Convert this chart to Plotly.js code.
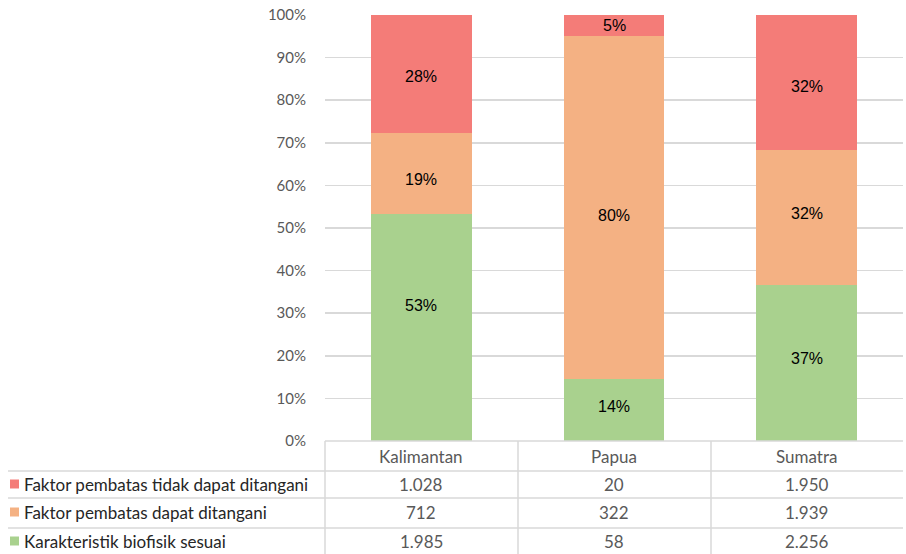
<!DOCTYPE html>
<html>
<head>
<meta charset="utf-8">
<script src="https://cdn.plot.ly/plotly-3.0.1.min.js"></script>
<style>
  html, body { margin: 0; padding: 0; background: #fff; }
  #chart { width: 906px; height: 554px; }
</style>
</head>
<body>
<div id="chart"></div>
<script>
// Regions shown as columns
const regions = ['Kalimantan', 'Papua', 'Sumatra'];

// Counts per series (same order as regions)
const seriesNames = [
  'Faktor pembatas tidak dapat ditangani',
  'Faktor pembatas dapat ditangani',
  'Karakteristik biofisik sesuai'
];
const tidakDapatDitangani = [1028, 20, 1950];
const dapatDitangani = [712, 322, 1939];
const biofisikSesuai = [1985, 58, 2256];

const yTicks = [0, 10, 20, 30, 40, 50, 60, 70, 80, 90, 100];

// vertical nudge of each percentage label, px downward from segment centre
const labelNudge = [
  [3, 0, 4],     // tidak dapat ditangani
  [6, 8, -4],    // dapat ditangani
  [-22, -4, -4]  // biofisik sesuai
];

const colors = ['#f47c78', '#f4b183', '#a9d18e'];
const seriesValues = [tidakDapatDitangani, dapatDitangani, biofisikSesuai];

// share of each series within a region, in percent
const totals = regions.map((_, i) => seriesValues.reduce((s, arr) => s + arr[i], 0));
const pct = seriesValues.map(arr => arr.map((v, i) => v * 100 / totals[i]));

// round half to even
function roundEven(x) {
  const f = Math.floor(x), d = x - f;
  if (Math.abs(d - 0.5) < 1e-9) return (f % 2 === 0) ? f : f + 1;
  return Math.round(x);
}
// thousands separator "."
function fmt(n) {
  return String(n).replace(/\B(?=(\d{3})+(?!\d))/g, '.');
}

// plot area in pixels
const L = 325, R = 903, T = 15, B = 441, W = 906, H = 554;
const px = x => (x - L) / (R - L);
const py = y => (B - y) / (B - T);

// stack from the bottom: green, orange, red
const stackOrder = [2, 1, 0];
const traces = stackOrder.map(k => ({
  type: 'bar',
  name: seriesNames[k],
  x: regions,
  y: pct[k],
  marker: { color: colors[k], line: { width: 0 } },
  hoverinfo: 'skip',
  showlegend: false
}));

const gridColor = '#d9d9d9';
const shapes = [];
const annotations = [];

// percentage labels in the middle of each segment
regions.forEach((r, i) => {
  let base = 0;
  stackOrder.forEach(k => {
    const v = pct[k][i];
    annotations.push({
      xref: 'x', yref: 'y', x: r, y: base + v / 2, yshift: -labelNudge[k][i],
      text: roundEven(v) + '%', showarrow: false, xanchor: 'center', yanchor: 'middle',
      font: { family: 'Liberation Sans, Arial, sans-serif', size: 16, color: '#000000' }
    });
    base += v;
  });
});

// table grid lines
const rowLines = [471, 498, 528];
shapes.push({ type: 'line', xref: 'paper', yref: 'paper', x0: px(L), x1: px(R), y0: py(B), y1: py(B),
  line: { color: gridColor, width: 1.5 } });
rowLines.forEach(y => shapes.push({ type: 'line', xref: 'paper', yref: 'paper',
  x0: px(8), x1: px(R), y0: py(y), y1: py(y), line: { color: gridColor, width: 1.5 } }));
[L, 518, 711].forEach(x => shapes.push({ type: 'line', xref: 'paper', yref: 'paper',
  x0: px(x), x1: px(x), y0: py(B), y1: py(H), line: { color: gridColor, width: 1.5 } }));

const tableFont = 'Lato, sans-serif';

// header row: region names
const headerY = 456;
regions.forEach(r => annotations.push({
  xref: 'x', yref: 'paper', x: r, y: py(headerY), text: r, showarrow: false,
  xanchor: 'center', yanchor: 'middle',
  font: { family: tableFont, size: 17, color: '#595959' }
}));

// data rows with legend keys
const rowCenters = [484, 512, 541];
seriesValues.forEach((arr, k) => {
  const yc = rowCenters[k];
  shapes.push({ type: 'rect', xref: 'paper', yref: 'paper',
    x0: px(10), x1: px(19), y0: py(yc - 4.5), y1: py(yc + 4.5),
    fillcolor: colors[k], line: { width: 0 } });
  annotations.push({ xref: 'paper', yref: 'paper', x: px(22), y: py(yc), text: seriesNames[k],
    showarrow: false, xanchor: 'left', yanchor: 'middle',
    font: { family: tableFont, size: 17, color: '#262626' } });
  arr.forEach((v, i) => annotations.push({
    xref: 'x', yref: 'paper', x: regions[i], y: py(yc), text: fmt(v), showarrow: false,
    xanchor: 'center', yanchor: 'middle',
    font: { family: tableFont, size: 17, color: '#595959' }
  }));
});

const layout = {
  width: W, height: H,
  margin: { l: L, r: W - R, t: T, b: H - B, pad: 0 },
  paper_bgcolor: '#ffffff', plot_bgcolor: '#ffffff',
  barmode: 'stack',
  bargap: 0.476,
  xaxis: {
    type: 'category', showticklabels: false, showgrid: false, zeroline: false,
    showline: false, ticks: ''
  },
  yaxis: {
    range: [0, 100], tickvals: yTicks, ticktext: yTicks.map(t => t + '%'),
    showgrid: true, gridcolor: gridColor, gridwidth: 1.5, zeroline: false, showline: false,
    ticks: '', ticklabelstandoff: 18,
    tickfont: { family: 'Lato, sans-serif', size: 15, color: '#595959' }
  },
  shapes: shapes,
  annotations: annotations,
  showlegend: false
};

Plotly.newPlot('chart', traces, layout, { displayModeBar: false, staticPlot: true });
</script>
</body>
</html>
